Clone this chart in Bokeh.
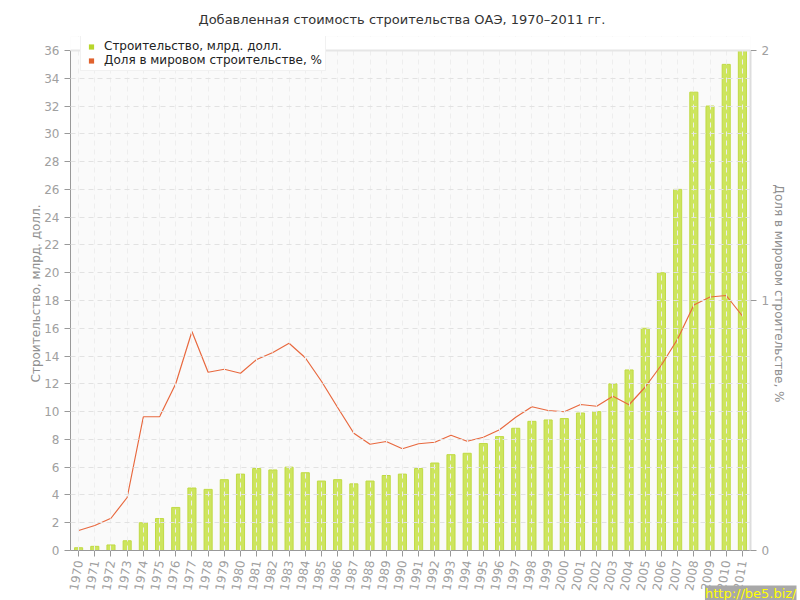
from bokeh.plotting import figure
from bokeh.models import (Range1d, LinearAxis, FactorRange, Legend, LegendItem,
                          FixedTicker, BoxAnnotation, Span, Title, ColumnDataSource)
from bokeh.embed import file_html
from bokeh.resources import INLINE

years = [str(y) for y in range(1970, 2012)]
construction = [0.2, 0.3, 0.4, 0.7, 2.0, 2.3, 3.1, 4.5, 4.4, 5.1,
                5.5, 5.9, 5.8, 6.0, 5.6, 5.0, 5.1, 4.8, 5.0, 5.4,
                5.5, 5.9, 6.3, 6.9, 7.0, 7.7, 8.2, 8.8, 9.3, 9.4,
                9.5, 9.9, 10.0, 12.0, 13.0, 16.0, 20.0, 26.0, 33.0, 32.0,
                35.0, 36.0]
world_share = [0.080, 0.100, 0.129, 0.212, 0.535, 0.535, 0.667, 0.876, 0.713, 0.725,
               0.709, 0.764, 0.792, 0.829, 0.771, 0.677, 0.572, 0.469, 0.425, 0.436,
               0.407, 0.427, 0.433, 0.461, 0.437, 0.453, 0.483, 0.533, 0.575, 0.560,
               0.555, 0.584, 0.577, 0.617, 0.583, 0.654, 0.742, 0.846, 0.982, 1.014,
               1.020, 0.938]
left_max = 36
right_max = 2
left_ticks = list(range(0, left_max + 1, 2))
right_ticks = [0, 1, 2]

title = "Добавленная стоимость строительства ОАЭ, 1970–2011 гг."
s1_name = "Строительство, млрд. долл."
s2_name = "Доля в мировом строительстве, %"
watermark = "http://be5.biz/"

src = ColumnDataSource(dict(x=years, c=construction, s=world_share))

FONT = "DejaVu Sans"
W, H = 800, 600
TOP, BOTTOM, LEFT, RIGHT = 36, 50, 70, 50
PLOT_TOP = 50          # pixel row of the top tick
frame_h = H - TOP - BOTTOM
ext = frame_h / (H - BOTTOM - PLOT_TOP)   # headroom above the top tick

p = figure(x_range=FactorRange(*years, range_padding=0),
           y_range=Range1d(0, left_max * ext),
           width=W, height=H, output_backend="svg", toolbar_location=None,
           min_border_left=LEFT, min_border_right=RIGHT, min_border_top=TOP,
           min_border_bottom=BOTTOM, title=title)
p.title.align = "left"
p.title.vertical_align = "top"
p.title.offset = 128
p.title.standoff = 16
p.title.text_font = FONT
p.title.text_font_size = "13px"
p.title.text_font_style = "normal"
p.title.text_color = "#333333"

p.background_fill_color = "#fafafa"
p.border_fill_color = "white"
p.outline_line_color = None

p.extra_y_ranges = {"share": Range1d(0, right_max * ext)}

bars = p.vbar(x="x", top="c", width=0.5, source=src, fill_color="#cde55e",
              line_color="#c0da44", line_width=1)
line = p.line(x="x", y="s", source=src, y_range_name="share",
              line_color="#e8693f", line_width=1.2)
# zero-size markers that only serve as legend keys
bar_key = p.scatter(x="x", y="c", source=src, marker="square", size=0,
                    fill_color="#b8d62c", line_color=None)
line_key = p.scatter(x="x", y="s", source=src, marker="square", size=0,
                     fill_color="#e0622e", line_color=None, y_range_name="share")

for g in (p.xgrid, p.ygrid):
    g.grid_line_color = "#e2e2e2"
    g.grid_line_dash = "5 4"
    g.grid_line_width = 1
    g.level = "guide"
p.xgrid.grid_line_color = "#eeeeee"

p.add_layout(BoxAnnotation(bottom=left_max, fill_color="white", fill_alpha=1.0,
                           line_color=None))
p.add_layout(Span(location=left_max, dimension="width", line_color="#e6e6e6",
                  line_width=2))

yax = p.yaxis[0]
yax.ticker = FixedTicker(ticks=left_ticks)
yax.axis_label = s1_name
yax.bounds = (0, left_max)
xax = p.xaxis[0]
xax.major_label_orientation = 1.4

rax = LinearAxis(y_range_name="share", ticker=FixedTicker(ticks=right_ticks),
                 axis_label=s2_name, bounds=(0, right_max))
p.add_layout(rax, "right")

for ax in (xax, yax, rax):
    ax.axis_line_color = "#999999"
    ax.major_tick_line_color = "#999999"
    ax.minor_tick_line_color = None
    ax.major_tick_out = 6
    ax.major_tick_in = 0
    ax.major_label_text_font = FONT
    ax.major_label_text_font_size = "12px"
    ax.major_label_text_color = "#a0a0a0"
    ax.axis_label_text_font = FONT
    ax.axis_label_text_font_size = "12px"
    ax.axis_label_text_font_style = "normal"
    ax.axis_label_text_color = "#909090"
rax.axis_line_color = "#dddddd"
rax.axis_line_width = 2
xax.major_label_standoff = 4
yax.axis_label_standoff = -2
rax.axis_label_standoff = 0

wm = Title(text=watermark, align="right", vertical_align="top", offset=-46,
           standoff=-20, text_font=FONT, text_font_size="13px",
           text_font_style="normal", text_color="#ffff00",
           background_fill_color="#a8a8a8")
p.add_layout(wm, "below")

legend = Legend(items=[LegendItem(label=s1_name, renderers=[bar_key]),
                       LegendItem(label=s2_name, renderers=[line_key])],
                location=(10, 479), orientation="vertical",
                glyph_width=14, glyph_height=13, label_text_font=FONT,
                label_text_font_size="12px", label_text_color="#222222",
                label_height=13, label_standoff=6, spacing=0, padding=3, margin=0,
                border_line_color="#e4e4e4", background_fill_color="white",
                background_fill_alpha=1.0)
p.add_layout(legend)

open("out.html", "w").write(file_html(p, INLINE))
